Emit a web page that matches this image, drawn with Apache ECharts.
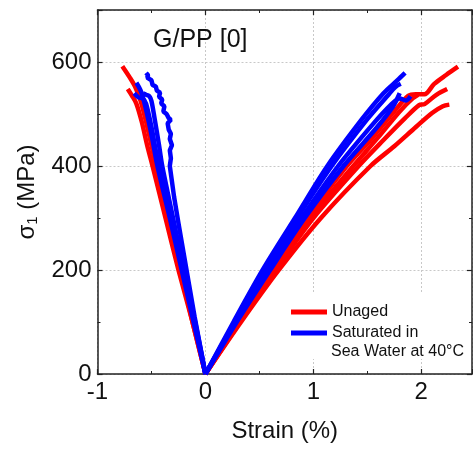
<!DOCTYPE html>
<html>
<head>
<meta charset="utf-8">
<script src="https://cdn.jsdelivr.net/npm/echarts@6/dist/echarts.min.js"></script>
<style>html,body{margin:0;padding:0;background:#fff;}#c{width:473px;height:449px;}</style>
</head>
<body>
<div id="c"></div>
<script>
// ---- axis ticks ----
var xTicks = [-1, 0, 1, 2];
var yTicks = [0, 200, 400, 600];

// ---- Unaged (red) curves: [strain %, stress MPa] ----
var unagedT1 = [[0,0],[0.30,100],[0.61,200],[0.94,300],[1.31,400],[1.55,455],[1.75,505],[1.88,535],[1.95,538],[2.03,538],[2.12,558],[2.23,575],[2.34,591]];
var unagedT2 = [[0,0],[0.32,100],[0.65,200],[1.00,300],[1.42,400],[1.65,450],[1.85,492],[1.98,517],[2.03,519],[2.14,537],[2.24,548]];
var unagedT3 = [[0,0],[0.33,100],[0.68,200],[1.07,300],[1.53,400],[1.75,438],[1.95,475],[2.10,502],[2.20,515],[2.26,518]];
var unagedT4 = [[0,0],[0.31,100],[0.63,200],[0.97,300],[1.37,400],[1.60,455],[1.80,505],[1.92,530],[1.97,537]];
var unagedC1 = [[0,0],[-0.12,100],[-0.23,200],[-0.34,300],[-0.45,395],[-0.50,440],[-0.55,485],[-0.60,525],[-0.65,552],[-0.70,570],[-0.77,592]];
var unagedC2 = [[0,0],[-0.12,100],[-0.25,200],[-0.37,300],[-0.49,400],[-0.54,440],[-0.59,485],[-0.64,520],[-0.68,535],[-0.72,548]];

// ---- Saturated in sea water at 40°C (blue) curves ----
var agedT1 = [[0,0],[0.26,100],[0.53,200],[0.83,300],[1.13,400],[1.45,490],[1.65,540],[1.78,565],[1.85,579]];
var agedT2 = [[0,0],[0.27,100],[0.55,200],[0.85,300],[1.17,400],[1.50,490],[1.70,538],[1.76,552],[1.81,558]];
var agedT3 = [[0,0],[0.28,100],[0.57,200],[0.89,300],[1.23,400],[1.55,480],[1.72,518],[1.80,530],[1.86,526],[1.90,534]];
var agedT4 = [[0,0],[0.29,100],[0.60,200],[0.92,300],[1.28,400],[1.58,472],[1.74,515],[1.80,540]];
var agedC1 = [[0,0],[-0.05,55],[-0.10,110],[-0.15,170],[-0.20,230],[-0.25,290],[-0.29,340],[-0.33,400],[-0.32,415],[-0.33,430],[-0.31,440],[-0.33,452],[-0.32,462],[-0.34,470],[-0.35,482],[-0.32,489],[-0.34,492],[-0.36,500],[-0.39,505],[-0.38,515],[-0.41,520],[-0.40,528],[-0.43,533],[-0.42,541],[-0.45,545],[-0.46,553],[-0.49,556],[-0.50,565],[-0.54,570],[-0.53,574],[-0.55,579]];
var agedC2 = [[0,0],[-0.11,100],[-0.22,200],[-0.33,300],[-0.40,360],[-0.45,405],[-0.49,450],[-0.53,490],[-0.57,525],[-0.60,545],[-0.64,560]];
var agedC3 = [[0,0],[-0.10,100],[-0.21,200],[-0.32,300],[-0.43,400],[-0.46,430],[-0.50,475],[-0.55,520],[-0.58,530],[-0.62,532],[-0.66,540]];
var agedC4 = [[0,0],[-0.095,100],[-0.20,200],[-0.30,300],[-0.40,400],[-0.43,440],[-0.47,490],[-0.50,525],[-0.52,534],[-0.55,537],[-0.58,540]];

var nameRed = 'Unaged';
var nameBlue = 'Saturated in Sea Water at 40°C';
var redCurves = [unagedT1, unagedT2, unagedT3, unagedT4, unagedC1, unagedC2];
var blueCurves = [agedT1, agedT2, agedT3, agedT4, agedC1, agedC2, agedC3, agedC4];
var jagged = [agedC1];

var FONT = 'Liberation Sans, Arial, sans-serif';
var series = [];
redCurves.forEach(function (d) {
  series.push({name: nameRed, type: 'line', data: d, showSymbol: false, symbol: 'none', smooth: 0.3,
    lineStyle: {color: '#ff0000', width: 4.5}, itemStyle: {color: '#ff0000'}, z: 2, animation: false});
});
blueCurves.forEach(function (d) {
  series.push({name: nameBlue, type: 'line', data: d, showSymbol: false, symbol: 'none',
    smooth: jagged.indexOf(d) >= 0 ? false : 0.3,
    lineStyle: {color: '#0000ff', width: 4.5}, itemStyle: {color: '#0000ff'}, z: 3, animation: false});
});

var axisLine = {show: true, onZero: false, lineStyle: {color: '#222', width: 1.5}};
var split = {show: true, lineStyle: {color: '#c8c8c8', type: [2, 2], width: 1}};
var tick = {show: true, inside: true, length: 5, lineStyle: {color: '#222', width: 1.2}};
var minor = {show: true, splitNumber: 2, length: 3, lineStyle: {color: '#222', width: 1}};

var chart = echarts.init(document.getElementById('c'), null, {renderer: 'canvas'});
chart.setOption({
  animation: false,
  backgroundColor: '#fff',
  grid: {left: 97.5, right: 1, top: 10, bottom: 75, containLabel: false},
  title: {text: 'G/PP [0]', left: 148, top: 23,
    textStyle: {fontFamily: FONT, fontSize: 25, fontWeight: 'normal', color: '#111'}},
  legend: {
    orient: 'vertical', left: 286, top: 297, itemWidth: 36, itemHeight: 5, itemGap: 1,
    icon: 'rect', z: 6,
    data: [nameRed, nameBlue],
    formatter: function (n) { return n === nameBlue ? 'Saturated in' : n; },
    textStyle: {fontFamily: FONT, fontSize: 16, color: '#111', lineHeight: 20}
  },
  graphic: [
    {type: 'rect', left: 286, top: 292, z: 5,
      shape: {width: 182, height: 67}, style: {fill: '#ffffff'}},
    {type: 'text', left: 331, top: 344, z: 7,
      style: {text: 'Sea Water at 40°C', font: '16px ' + FONT, fill: '#111'}}
  ],
  xAxis: [{
    type: 'value', min: -1, max: 2.47, interval: 1,
    name: 'Strain (%)', nameLocation: 'middle', nameGap: 45,
    nameTextStyle: {fontFamily: FONT, fontSize: 24, color: '#111'},
    axisLine: axisLine, axisTick: tick, minorTick: minor,
    axisLabel: {fontFamily: FONT, fontSize: 24, color: '#111', margin: 6, showMaxLabel: false,
      formatter: function (v) { return xTicks.indexOf(v) >= 0 ? String(v) : ''; }},
    splitLine: split
  }, {
    type: 'value', position: 'top', min: -1, max: 2.47, interval: 1,
    axisLine: axisLine, axisTick: tick, minorTick: minor,
    axisLabel: {show: false}, splitLine: {show: false}
  }],
  yAxis: [{
    type: 'value', min: 0, max: 700, interval: 200,
    name: '{a|σ}{b|1}{a| (MPa)}', nameLocation: 'middle', nameGap: 57, nameRotate: 90,
    nameTextStyle: {fontFamily: FONT, fontSize: 24, color: '#111',
      rich: {a: {fontFamily: FONT, fontSize: 24, color: '#111'},
             b: {fontFamily: FONT, fontSize: 15, color: '#111', padding: [11, 0, 0, 0]}}},
    axisLine: axisLine, axisTick: tick, minorTick: minor,
    axisLabel: {fontFamily: FONT, fontSize: 24, color: '#111', margin: 6, showMaxLabel: false,
      formatter: function (v) { return yTicks.indexOf(v) >= 0 ? String(v) : ''; }},
    splitLine: split
  }, {
    type: 'value', position: 'right', min: 0, max: 700, interval: 200,
    axisLine: axisLine, axisTick: tick, minorTick: minor,
    axisLabel: {show: false}, splitLine: {show: false}
  }],
  series: series
});
</script>
</body>
</html>
